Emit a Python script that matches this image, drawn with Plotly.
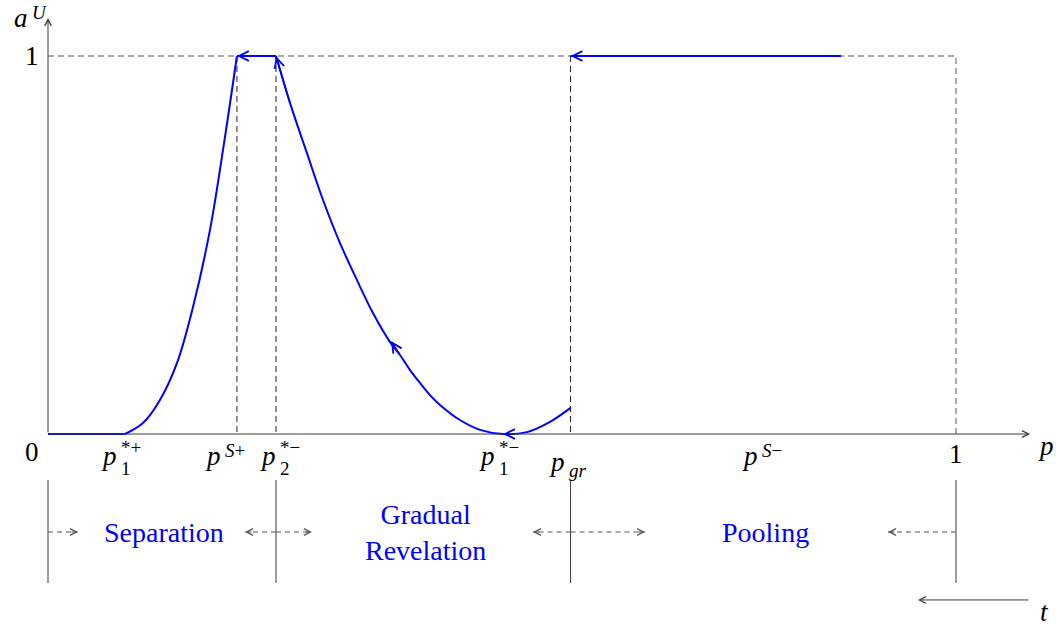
import plotly.graph_objects as go

# ---------------- data (p on x, a^U on y) ----------------
p_flat0 = [0.0, 0.0848]
a_flat0 = [0.0, 0.0]

p_rise = [0.0848, 0.1046, 0.1233, 0.1421, 0.1597, 0.1784, 0.1927, 0.2081]
a_rise = [0.0, 0.029, 0.090, 0.188, 0.336, 0.540, 0.751, 1.0]

p_top = [0.2081, 0.2511]
a_top = [1.0, 1.0]

p_fall = [0.2511, 0.2665, 0.2852, 0.3029, 0.3216, 0.3403, 0.3579, 0.3767,
          0.3877, 0.3987, 0.4097, 0.4207, 0.4317, 0.4537, 0.4758, 0.5011]
a_fall = [1.0, 0.876, 0.743, 0.619, 0.505, 0.407, 0.320, 0.243,
          0.209, 0.169, 0.135, 0.103, 0.077, 0.037, 0.011, 0.0]

p_up = [0.5011, 0.5275, 0.5529, 0.5755]
a_up = [0.0, 0.005, 0.032, 0.069]

p_pool = [0.5755, 0.8733]
a_pool = [1.0, 1.0]

# key thresholds
P1_PLUS, PS_PLUS, P2_MINUS, P1_MINUS, P_GR, PS_MINUS = 0.0848, 0.2081, 0.2511, 0.5011, 0.5755, 0.7896

tick_vals = [P1_PLUS, PS_PLUS, P2_MINUS, P1_MINUS, P_GR, PS_MINUS]
tick_sup = ["*+", "<i>S</i>+", "*−", "*−", "", "<i>S</i>−"]
tick_sub = ["1", "", "2", "1", "<i>gr</i>", ""]
tick_dx = [-6, -14, 2, -6, -4, -5]          # pixel offset of the p/script join
tick_dy = [0, 0, 0, 0, -6, 0]

region_bounds = [0.0, P2_MINUS, P_GR, 1.0]
region_names = ["Separation", "Gradual<br>Revelation", "Pooling"]

# ---------------- layout constants ----------------
W, H = 1056, 628
X0_PX, X1_PX, Y0_PX, Y1_PX = 48, 956, 434, 56
SX = X1_PX - X0_PX
SY = Y0_PX - Y1_PX
XR = [-X0_PX / SX, (W - X0_PX) / SX]
YR = [(Y0_PX - H) / SY, Y0_PX / SY]

X_AXIS_END = 1.0815
Y_AXIS_END = 1.1005
ROW_Y = -0.2593
SEG_TOP, SEG_BOT = -0.1217, -0.3942
T_Y, T_X0, T_X1 = -0.439, 1.0815, 0.9581

BLUE = "#0000ff"
DARK = "#3a3a3a"
GREY = "#555555"
FONT = "'Liberation Serif', 'Times New Roman', serif"

fig = go.Figure()

def line(xs, ys, color, width=1, dash=None, shape="linear"):
    fig.add_trace(go.Scatter(x=xs, y=ys, mode="lines", hoverinfo="skip",
                             line=dict(color=color, width=width, dash=dash, shape=shape,
                                       smoothing=1.0)))

DASH = "6px,4px"
# dashed guides
line([0.0, 1.0, 1.0], [1.0, 1.0, 0.0], GREY, 1, DASH)
for xv in [PS_PLUS, P2_MINUS, P_GR]:
    line([xv, xv], [1.0, 0.0], "#222222", 1, DASH)

# blue curve
line(p_flat0, a_flat0, BLUE, 2)
line(p_rise, a_rise, BLUE, 2, shape="spline")
line(p_top, a_top, BLUE, 2)
line(p_fall + p_up[1:], a_fall + a_up[1:], BLUE, 2, shape="spline")
line(p_pool, a_pool, BLUE, 2)

# lower separators
for xv in region_bounds:
    line([xv, xv], [SEG_TOP, SEG_BOT], DARK, 1)

ann = []

def arrow(x, y, ax, ay, color, width, size, axref="x", ayref="y"):
    ann.append(dict(x=x, y=y, ax=ax, ay=ay, xref="x", yref="y", axref=axref, ayref=ayref,
                    showarrow=True, arrowhead=5, arrowwidth=width, arrowsize=size,
                    arrowcolor=color, standoff=0, startstandoff=0, text=""))

# axes
arrow(X_AXIS_END, 0, 0, 0, DARK, 1, 1.3)
arrow(0, Y_AXIS_END, 0, 0, DARK, 1, 1.3)
arrow(T_X1, T_Y, T_X0, T_Y, DARK, 1, 1.3)

# arrowheads on the blue curve
arrow(p_top[0], a_top[0], 8, 0, BLUE, 1.6, 1.2, "pixel", "pixel")
arrow(p_fall[0], a_fall[0], p_fall[1], a_fall[1], BLUE, 1.6, 1.2)
arrow(0.3778, 0.246, p_fall[8], a_fall[8], BLUE, 1.6, 1.2)
arrow(p_up[0], a_up[0], 8, 0, BLUE, 1.6, 1.2, "pixel", "pixel")
arrow(p_pool[0], a_pool[0], 8, 0, BLUE, 1.6, 1.2, "pixel", "pixel")

# dashed arrows in the regime row
dash_arrows = [(0.0, 0.0330), (P2_MINUS, 0.2170), (P2_MINUS, 0.2907),
               (P_GR, 0.5341), (P_GR, 0.6575), (1.0, 0.9251)]
for x0, x1 in dash_arrows:
    line([x0, x1], [ROW_Y, ROW_Y], GREY, 1, "5px,4px")
    arrow(x1, ROW_Y, -8 if x1 > x0 else 8, 0, GREY, 1, 1.3, "pixel", "pixel")

def text(x, y, s, size, color="black", xanchor="center", xshift=0, yshift=0):
    ann.append(dict(x=x, y=y, xref="x", yref="y", text=s, showarrow=False,
                    font=dict(family=FONT, size=size, color=color),
                    xanchor=xanchor, yanchor="middle", xshift=xshift, yshift=yshift))

BASE, SCRIPT = 27, 19
# tick labels
BASE_Y = -22 / SY
for xv, sup, sub, dx, dy in zip(tick_vals, tick_sup, tick_sub, tick_dx, tick_dy):
    text(xv, BASE_Y, "<i>p</i>", BASE, xanchor="right", xshift=dx, yshift=dy)
    if sup:
        text(xv, BASE_Y, sup, SCRIPT, xanchor="left", xshift=dx, yshift=dy + (9 if sub else 6))
    if sub:
        text(xv, BASE_Y, sub, SCRIPT, xanchor="left", xshift=dx, yshift=dy - (12 if sup else 8))

text(0, 1.0, "1", BASE, xshift=-16)
text(0, 0, "0", BASE, xshift=-16, yshift=-18)
text(1.0, 0, "1", BASE, yshift=-20)
text(X_AXIS_END, 0, "<i>p</i>", BASE, xshift=16, yshift=-12)
text(0, Y_AXIS_END, "<i>a</i>", BASE, xanchor="right", xshift=-18)
text(0, Y_AXIS_END, "<i>U</i>", SCRIPT, xanchor="left", xshift=-18, yshift=6)
text(T_X0, T_Y, "<i>t</i>", BASE, xshift=14, yshift=-12)

# regime names
for i, name in enumerate(region_names):
    mid = (region_bounds[i] + region_bounds[i + 1]) / 2
    text(mid, ROW_Y, name, 28, color=BLUE, xshift=2)

fig.update_layout(
    width=W, height=H, margin=dict(l=0, r=0, t=0, b=0),
    paper_bgcolor="white", plot_bgcolor="white", showlegend=False,
    font=dict(family=FONT),
    xaxis=dict(range=XR, visible=False, fixedrange=True),
    yaxis=dict(range=YR, visible=False, fixedrange=True),
    annotations=ann,
)
fig.write_html("out.html", config={"displayModeBar": False},
               post_script="document.body.style.margin='0';document.body.style.overflow='hidden';")
